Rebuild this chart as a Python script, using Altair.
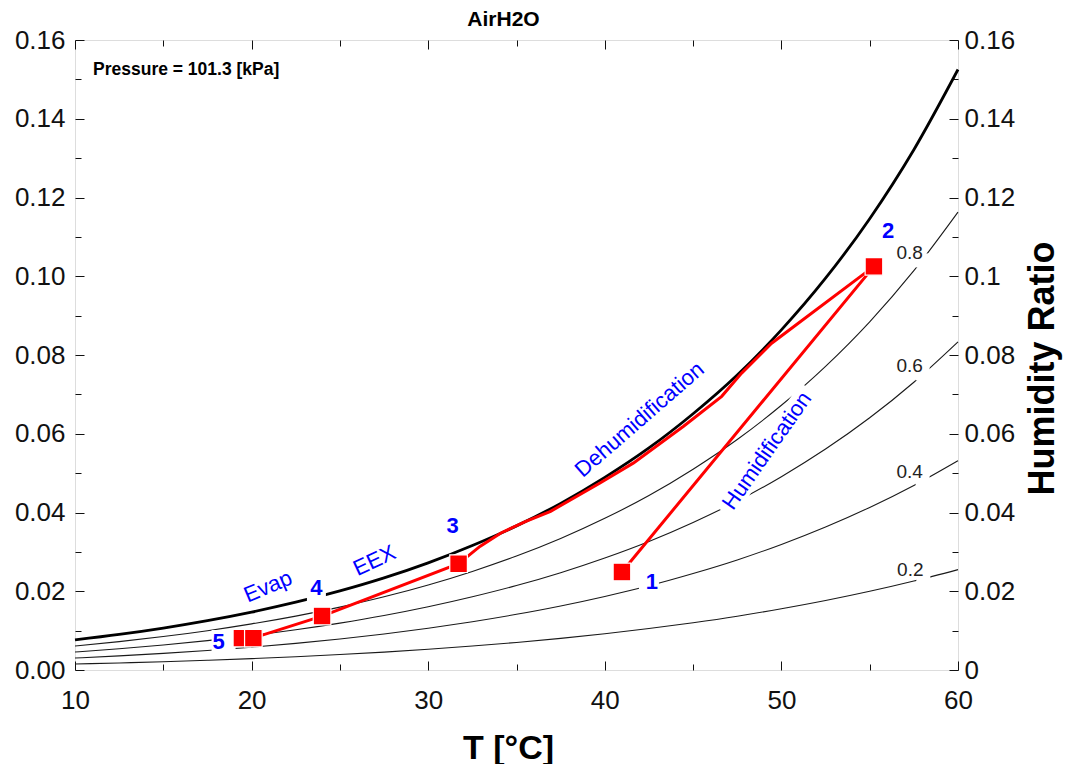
import altair as alt
import pandas as pd

# ---------------- data ----------------
T_GRID = [10, 12.5, 15, 17.5, 20, 22.5, 25, 27.5, 30, 32.5, 35, 37.5,
          40, 42.5, 45, 47.5, 50, 52.5, 55, 57.5, 60]
W_SAT = [0.00763, 0.00903, 0.01065, 0.01253, 0.01470, 0.01721, 0.02009,
         0.02340, 0.02722, 0.03162, 0.03660, 0.04232, 0.04891, 0.05639,
         0.06508, 0.07492, 0.08638, 0.09950, 0.11462, 0.13214, 0.15251]
W_RH80 = [0.00609, 0.00721, 0.00849, 0.00998, 0.01171, 0.01369, 0.01597,
          0.01858, 0.02159, 0.02504, 0.02894, 0.03340, 0.03852, 0.04431,
          0.05100, 0.05853, 0.06723, 0.07713, 0.08844, 0.10141, 0.11630]
W_RH60 = [0.00456, 0.00539, 0.00635, 0.00746, 0.00874, 0.01021, 0.01190,
          0.01383, 0.01605, 0.01859, 0.02145, 0.02472, 0.02845, 0.03265,
          0.03748, 0.04289, 0.04910, 0.05611, 0.06405, 0.07308, 0.08333]
W_RH40 = [0.00303, 0.00358, 0.00422, 0.00495, 0.00580, 0.00677, 0.00788,
          0.00915, 0.01061, 0.01227, 0.01414, 0.01626, 0.01868, 0.02139,
          0.02450, 0.02795, 0.03189, 0.03632, 0.04129, 0.04688, 0.05318]
W_RH20 = [0.00151, 0.00179, 0.00210, 0.00247, 0.00289, 0.00337, 0.00392,
          0.00454, 0.00526, 0.00608, 0.00699, 0.00803, 0.00920, 0.01052,
          0.01201, 0.01367, 0.01555, 0.01764, 0.01998, 0.02259, 0.02550]

RH_NAMES = ["0.8", "0.6", "0.4", "0.2"]
RH_LABEL_T = [57.26, 57.26, 57.26, 57.30]
RH_LABEL_W = [0.1058, 0.0771, 0.0504, 0.0255]

PATH_T = [40.97, 55.24, 49.45, 47.75, 46.62, 44.46, 41.63, 39.73, 36.93,
          35.50, 34.12, 32.93, 31.72, 23.99, 20.08]
PATH_W = [0.0249, 0.1025, 0.0830, 0.0754, 0.0695, 0.0619, 0.0526, 0.0475,
          0.0403, 0.0377, 0.0348, 0.0314, 0.0270, 0.0137, 0.0081]

STATE_T = [19.45, 40.97, 55.24, 31.72, 23.99, 20.10]
STATE_W = [0.0081, 0.0249, 0.1025, 0.0270, 0.0137, 0.0081]

STATE_NAMES = ["1", "2", "3", "4", "5"]
STATE_LABEL_T = [42.67, 56.04, 31.38, 23.67, 18.13]
STATE_LABEL_W = [0.0223, 0.1114, 0.0365, 0.0208, 0.0071]

PROCESS_NAMES = ["Evap", "EEX", "Dehumidification", "Humidification"]
PROCESS_T = [20.93, 26.96, 41.97, 49.18]
PROCESS_W = [0.0212, 0.0278, 0.0636, 0.0557]

PRESSURE_TEXT = ["Pressure = 101.3 [kPa]"]
PRESSURE_T = [11.02]
PRESSURE_W = [0.1523]

X_LABELS = [10, 20, 30, 40, 50, 60]
X_TICKS = [10, 15, 20, 25, 30, 35, 40, 45, 50, 55, 60]
Y_LABELS = [0, 0.02, 0.04, 0.06, 0.08, 0.10, 0.12, 0.14, 0.16]
Y_TICKS = [0, 0.01, 0.02, 0.03, 0.04, 0.05, 0.06, 0.07, 0.08,
           0.09, 0.10, 0.11, 0.12, 0.13, 0.14, 0.15, 0.16]

# ---------------- tables ----------------
rh_rows = []
for name, ws in zip(RH_NAMES, [W_RH80, W_RH60, W_RH40, W_RH20]):
    for t, w in zip(T_GRID, ws):
        rh_rows.append({"T": t, "w": w, "phi": name})
rh_df = pd.DataFrame(rh_rows)
sat_df = pd.DataFrame({"T": T_GRID, "w": W_SAT})
rh_lab_df = pd.DataFrame({"T": RH_LABEL_T, "w": RH_LABEL_W, "label": RH_NAMES})
path_df = pd.DataFrame({"T": PATH_T, "w": PATH_W, "order": list(range(len(PATH_T)))})
state_df = pd.DataFrame({"T": STATE_T, "w": STATE_W})
num_df = pd.DataFrame({"T": STATE_LABEL_T, "w": STATE_LABEL_W, "label": STATE_NAMES})
proc_df = pd.DataFrame({"T": PROCESS_T, "w": PROCESS_W, "label": PROCESS_NAMES})
press_df = pd.DataFrame({"T": PRESSURE_T, "w": PRESSURE_W, "label": PRESSURE_TEXT})

# ---------------- styling ----------------
FONT = "Liberation Sans"
W, H = 883, 630
BLUE = "#0000ff"

xs = alt.Scale(domain=[10, 60], nice=False, zero=False)
ys = alt.Scale(domain=[0, 0.16], nice=False, zero=False)

x_tick_size = {"condition": {"test": "datum.value % 10 === 0", "value": 9}, "value": 6}
y_tick_size = {"condition": {"test": "round(datum.value * 100) % 2 === 0", "value": 9}, "value": 6}


def tick_axis(orient, values, size):
    return alt.Axis(orient=orient, offset=-(H if orient in ("top", "bottom") else W),
                    values=values, labels=False, domain=False, grid=False,
                    ticks=True, tickSize=size, tickColor="#111", tickWidth=1, title="")


x_main = alt.Axis(orient="bottom", values=X_LABELS, ticks=False, domain=False, grid=False,
                  labelFont=FONT, labelFontSize=26, labelColor="#111", labelPadding=17,
                  labelFlush=False,
                  title="T [°C]", titleFont=FONT, titleFontSize=34, titleFontWeight="bold",
                  titleColor="#000", titleX=433, titleY=78, titleAlign="center",
                  titleBaseline="middle")
y_main = alt.Axis(orient="left", values=Y_LABELS, format=".2f", ticks=False, domain=False,
                  grid=False, labelFont=FONT, labelFontSize=26, labelColor="#111",
                  labelPadding=10, labelFlush=False, title="")
y_right = alt.Axis(orient="right", values=Y_LABELS, format="~g", ticks=False, domain=False,
                   grid=False, labelFont=FONT, labelFontSize=26, labelColor="#111",
                   labelPadding=6, labelFlush=False,
                   title="Humidity Ratio", titleFont=FONT, titleFontSize=36,
                   titleFontWeight="bold", titleColor="#000", titleAngle=270,
                   titleX=84, titleY=328, titleAlign="center", titleBaseline="middle")


def enc(ax_x, ax_y):
    return dict(x=alt.X("T:Q", scale=xs, axis=ax_x),
                y=alt.Y("w:Q", scale=ys, axis=ax_y))


rh_lines = alt.Chart(rh_df).mark_line(color="#1a1a1a", strokeWidth=1.1, interpolate="monotone").encode(
    detail="phi:N", **enc(x_main, y_main))

sat_line = alt.Chart(sat_df).mark_line(color="#000", strokeWidth=2.8, interpolate="monotone").encode(
    **enc(tick_axis("top", X_TICKS, x_tick_size), tick_axis("right", Y_TICKS, y_tick_size)))

layers = [rh_lines, sat_line]

# white boxes that open gaps in the curves behind some labels (as in the reference)
RECT_SHAPE = "M-1,-0.15L1,-0.15L1,0.15L-1,0.15Z"
first_box = [True]


def gap_box(df, size, shape="square", angle=0, dx=0, dy=0):
    if first_box[0]:
        e = enc(tick_axis("bottom", X_TICKS, x_tick_size), tick_axis("left", Y_TICKS, y_tick_size))
        first_box[0] = False
    else:
        e = enc(None, None)
    return alt.Chart(df).mark_point(shape=shape, size=size, angle=angle, xOffset=dx, yOffset=dy,
                                    filled=True, color="white", opacity=1, strokeWidth=0).encode(**e)


layers.append(gap_box(num_df[num_df.label == "1"], 20 * 20, dx=-3, dy=3))
layers.append(gap_box(num_df[num_df.label == "4"], 19 * 19, dy=4))
layers.append(gap_box(num_df[num_df.label == "5"], 24 * 24, dx=5))
layers.append(gap_box(rh_lab_df, 14 * 14, dx=13, dy=7))
layers.append(gap_box(proc_df[proc_df.label == "Humidification"], 150 * 150,
                      shape=RECT_SHAPE, angle=305))

path_line = alt.Chart(path_df).mark_line(color="#ff0000", strokeWidth=3).encode(
    order="order:Q", **enc(None, y_right))
markers = alt.Chart(state_df).mark_point(shape="square", filled=True, size=310, color="#ff0000",
                                         stroke="white", strokeWidth=1.2, opacity=1).encode(
    **enc(None, None))
layers += [path_line, markers]

rh_text = alt.Chart(rh_lab_df).mark_text(font=FONT, fontSize=19, color="#222",
                                         align="center", baseline="middle").encode(
    text="label:N", **enc(None, None))
num_text = alt.Chart(num_df).mark_text(font=FONT, fontSize=22, fontWeight="bold", color=BLUE,
                                       align="center", baseline="middle").encode(
    text="label:N", **enc(None, None))
layers += [rh_text, num_text]

PROCESS_ANGLES = {"Evap": 337, "EEX": 335, "Dehumidification": 319, "Humidification": 305}
for name in PROCESS_NAMES:
    layers.append(alt.Chart(proc_df[proc_df.label == name]).mark_text(
        font=FONT, fontSize=22, color=BLUE, angle=PROCESS_ANGLES[name],
        align="center", baseline="middle").encode(text="label:N", **enc(None, None)))

press_text = alt.Chart(press_df).mark_text(font=FONT, fontSize=17.5, fontWeight="bold",
                                           color="#000", align="left", baseline="middle").encode(
    text="label:N", **enc(None, None))
layers.append(press_text)

chart = alt.layer(*layers).resolve_scale(x="shared", y="shared").resolve_axis(
    x="independent", y="independent").properties(
    width=W, height=H,
    title=alt.TitleParams("AirH2O", font=FONT, fontSize=21, fontWeight="bold", color="#000",
                          anchor="middle", frame="group", dx=-13, offset=-3),
    autosize=alt.AutoSizeParams(type="none"),
    padding={"left": 67, "top": 32, "right": 105, "bottom": 94},
).configure_view(stroke="#333", strokeWidth=1.5).configure(font=FONT)

chart.save("out.html", embed_options={"renderer": "svg", "actions": False})
